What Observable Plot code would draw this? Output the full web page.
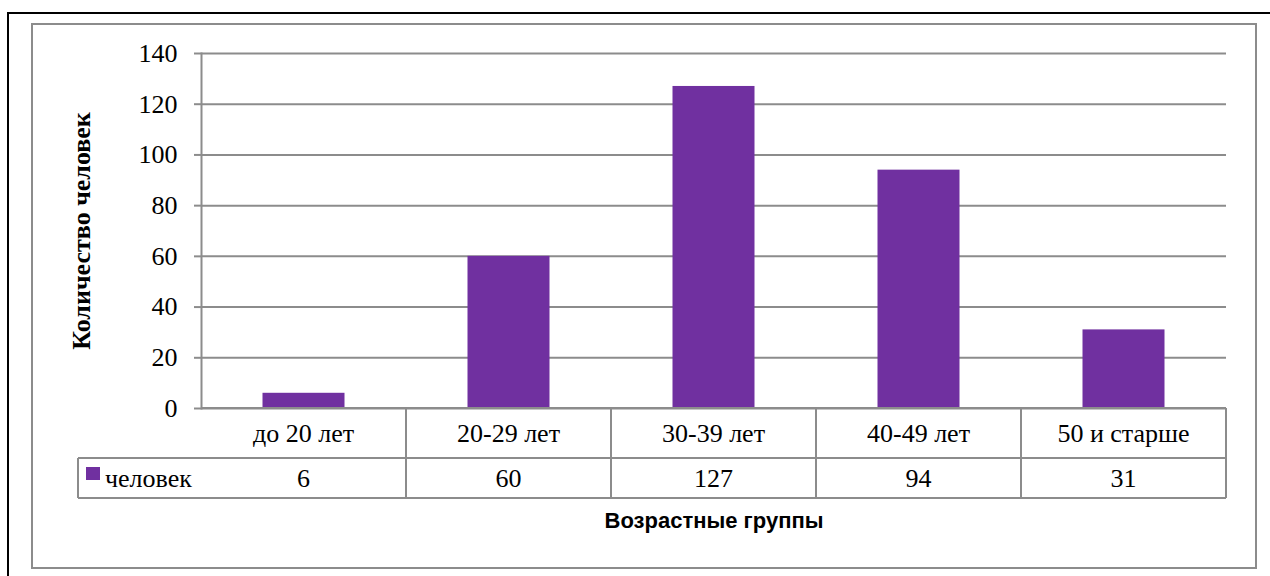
<!DOCTYPE html>
<html><head><meta charset="utf-8">
<script src="https://cdn.jsdelivr.net/npm/d3@7"></script>
<script src="https://cdn.jsdelivr.net/npm/@observablehq/plot@0.6"></script>
<style>html,body{margin:0;padding:0;background:#fff} svg{display:block}</style>
</head><body><div id="c"></div>
<script>
const categories = ["до 20 лет", "20-29 лет", "30-39 лет", "40-49 лет", "50 и старше"];
const values = [6, 60, 127, 94, 31];
const seriesName = "человек";
const yTicks = [0, 20, 40, 60, 80, 100, 120, 140];
const yTitle = "Количество человек";
const xTitle = "Возрастные группы";

const data = categories.map((c, i) => ({c, v: values[i]}));
const W = 1270, H = 576;
const grey = "#8c8c8c";
const barColor = "#7030A0";
const serif = "'Liberation Serif', 'Times New Roman', serif";

const chart = Plot.plot({
  width: W, height: H,
  marginLeft: 201, marginRight: 44, marginTop: 53, marginBottom: 168,
  style: `font-family: ${serif}; font-size: 26px; color: #000; background: #fff;`,
  x: {domain: categories, padding: 0, axis: null},
  y: {domain: [0, 140], ticks: yTicks},
  marks: [
    Plot.gridY(yTicks, {stroke: grey, strokeOpacity: 1, strokeWidth: 2}),
    Plot.barY(data, {x: "c", y: "v", fill: barColor, insetLeft: 61.5, insetRight: 61.5}),
    Plot.axisY(yTicks, {tickSize: 7, tickPadding: 17, label: null, stroke: grey, strokeWidth: 2, fill: "#000", fontSize: 26}),
    Plot.frame({anchor: "left", stroke: grey, strokeWidth: 2})
  ]
});
document.getElementById("c").appendChild(chart);

const svg = d3.select(chart);
const xs = chart.scale("x");
const ys = chart.scale("y");
const bw = xs.bandwidth;
const y0 = ys.apply(0);
const row1 = y0 + 50, row2 = y0 + 90;
const firstLeft = xs.apply(categories[0]);
const lastRight = xs.apply(categories[categories.length - 1]) + bw;
const legendLeft = 78;

const g = svg.append("g").attr("stroke", grey).attr("stroke-width", 2).attr("fill", "none");
// frames
svg.insert("rect", ":first-child").attr("x", 32).attr("y", 24).attr("width", 1224).attr("height", 544)
  .attr("fill", "none").attr("stroke", grey).attr("stroke-width", 2);
svg.insert("path", ":first-child").attr("d", `M8,${H} V13 H${W}`).attr("fill", "none").attr("stroke", "#000").attr("stroke-width", 2);

// table lines
g.append("line").attr("x1", firstLeft).attr("x2", lastRight).attr("y1", y0).attr("y2", y0);
g.append("line").attr("x1", legendLeft).attr("x2", lastRight).attr("y1", row1).attr("y2", row1);
g.append("line").attr("x1", legendLeft).attr("x2", lastRight).attr("y1", row2).attr("y2", row2);
g.append("line").attr("x1", legendLeft).attr("x2", legendLeft).attr("y1", row1).attr("y2", row2);
categories.forEach((c, i) => {
  const l = xs.apply(c);
  g.append("line").attr("x1", l + bw).attr("x2", l + bw).attr("y1", y0).attr("y2", row2);
});

const t = svg.append("g").style("font-family", serif).style("font-size", "26px").attr("fill", "#000").attr("text-anchor", "middle");
categories.forEach((c, i) => {
  const cx = xs.apply(c) + bw / 2;
  t.append("text").attr("x", cx).attr("y", (y0 + row1) / 2).attr("dy", "0.35em").text(c);
  t.append("text").attr("x", cx).attr("y", (row1 + row2) / 2).attr("dy", "0.35em").text(values[i]);
});
// legend
svg.append("rect").attr("x", 86).attr("y", 467).attr("width", 14).attr("height", 13).attr("fill", barColor);
t.append("text").attr("x", 105).attr("y", (row1 + row2) / 2).attr("dy", "0.35em").attr("text-anchor", "start").text(seriesName);

// titles
svg.append("text").attr("transform", "translate(81,231) rotate(-90)").attr("text-anchor", "middle").attr("dy", "0.35em")
  .style("font-family", serif).style("font-size", "26px").style("font-weight", "bold").text(yTitle);
svg.append("text").attr("x", 714).attr("y", 520).attr("text-anchor", "middle").attr("dy", "0.35em")
  .style("font-family", "'Liberation Sans', Arial, sans-serif").style("font-size", "22px").style("font-weight", "bold").text(xTitle);
</script>
</body></html>
